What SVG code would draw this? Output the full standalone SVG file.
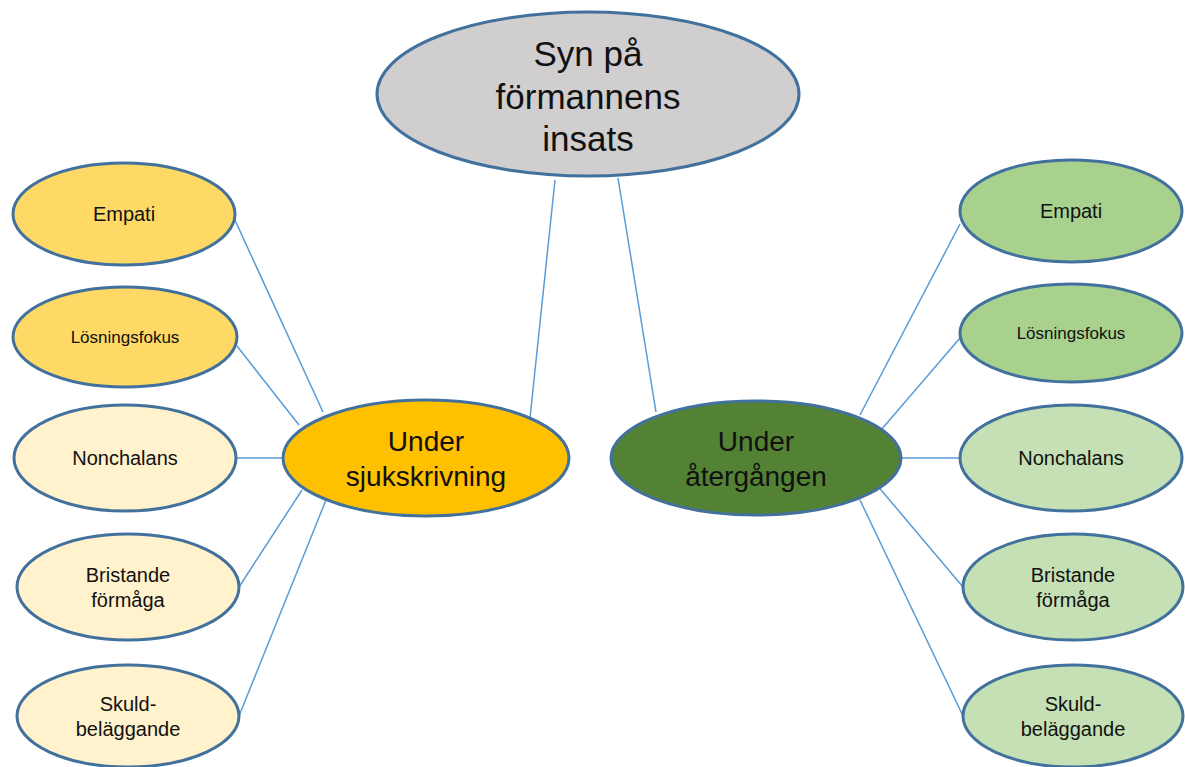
<svg xmlns="http://www.w3.org/2000/svg" width="1185" height="767" viewBox="0 0 1185 767">
<style>
.n{stroke:#41719C;stroke-width:3}
.t{font-family:"Liberation Sans",Arial,sans-serif;fill:#111;text-anchor:middle}
.s{font-size:20px}
.c{stroke:#5B9BD5;stroke-width:1.5;fill:none}
</style>
<rect width="1185" height="767" fill="#fff"/>
<g id="connectors">
<line class="c" x1="555" y1="180" x2="530" y2="418"/>
<line class="c" x1="618" y1="178" x2="656" y2="412"/>
<line class="c" x1="234" y1="218" x2="323" y2="412"/>
<line class="c" x1="237" y1="346" x2="299" y2="425"/>
<line class="c" x1="236" y1="458" x2="283" y2="458"/>
<line class="c" x1="239" y1="587" x2="302" y2="490"/>
<line class="c" x1="239" y1="716" x2="326" y2="500"/>
<line class="c" x1="960" y1="224" x2="860" y2="415"/>
<line class="c" x1="960" y1="338" x2="875" y2="437"/>
<line class="c" x1="900" y1="458" x2="960" y2="458"/>
<line class="c" x1="963" y1="587" x2="876" y2="484"/>
<line class="c" x1="963" y1="716" x2="860" y2="500"/>
</g>
<g id="top"><ellipse class="n" cx="588" cy="94" rx="211" ry="82" fill="#D0CECE"/>
<text class="t" font-size="35" x="588" y="66">Syn på</text>
<text class="t" font-size="35" x="588" y="109">förmannens</text>
<text class="t" font-size="35" x="588" y="151">insats</text></g>
<g id="left-center"><ellipse class="n" cx="426" cy="458" rx="143" ry="58" fill="#FFC000"/>
<text class="t" font-size="28" x="426" y="451">Under</text>
<text class="t" font-size="28" x="426" y="486">sjukskrivning</text></g>
<g id="right-center"><ellipse class="n" cx="756" cy="458" rx="145" ry="57" fill="#548235"/>
<text class="t" font-size="28" x="756" y="451">Under</text>
<text class="t" font-size="28" x="756" y="486">återgången</text></g>
<g id="l-empati"><ellipse class="n" cx="124" cy="214" rx="111" ry="51" fill="#FFD966"/>
<text class="t s" x="124" y="221">Empati</text></g>
<g id="l-losning"><ellipse class="n" cx="125" cy="337" rx="112" ry="50" fill="#FFD966"/>
<text class="t" font-size="17" x="125" y="343">Lösningsfokus</text></g>
<g id="l-nonch"><ellipse class="n" cx="125" cy="458" rx="111" ry="53" fill="#FFF2CC"/>
<text class="t s" x="125" y="465">Nonchalans</text></g>
<g id="l-brist"><ellipse class="n" cx="128" cy="587" rx="111" ry="53" fill="#FFF2CC"/>
<text class="t s" x="128" y="582">Bristande</text>
<text class="t s" x="128" y="607">förmåga</text></g>
<g id="l-skuld"><ellipse class="n" cx="128" cy="716" rx="111" ry="51" fill="#FFF2CC"/>
<text class="t s" x="128" y="711">Skuld-</text>
<text class="t s" x="128" y="736">beläggande</text></g>
<g id="r-empati"><ellipse class="n" cx="1071" cy="211" rx="111" ry="51" fill="#A9D18E"/>
<text class="t s" x="1071" y="218">Empati</text></g>
<g id="r-losning"><ellipse class="n" cx="1071" cy="333" rx="111" ry="49" fill="#A9D18E"/>
<text class="t" font-size="17" x="1071" y="339">Lösningsfokus</text></g>
<g id="r-nonch"><ellipse class="n" cx="1071" cy="458" rx="111" ry="53" fill="#C5E0B4"/>
<text class="t s" x="1071" y="465">Nonchalans</text></g>
<g id="r-brist"><ellipse class="n" cx="1073" cy="587" rx="110" ry="53" fill="#C5E0B4"/>
<text class="t s" x="1073" y="582">Bristande</text>
<text class="t s" x="1073" y="607">förmåga</text></g>
<g id="r-skuld"><ellipse class="n" cx="1073" cy="716" rx="110" ry="51" fill="#C5E0B4"/>
<text class="t s" x="1073" y="711">Skuld-</text>
<text class="t s" x="1073" y="736">beläggande</text></g>
</svg>
